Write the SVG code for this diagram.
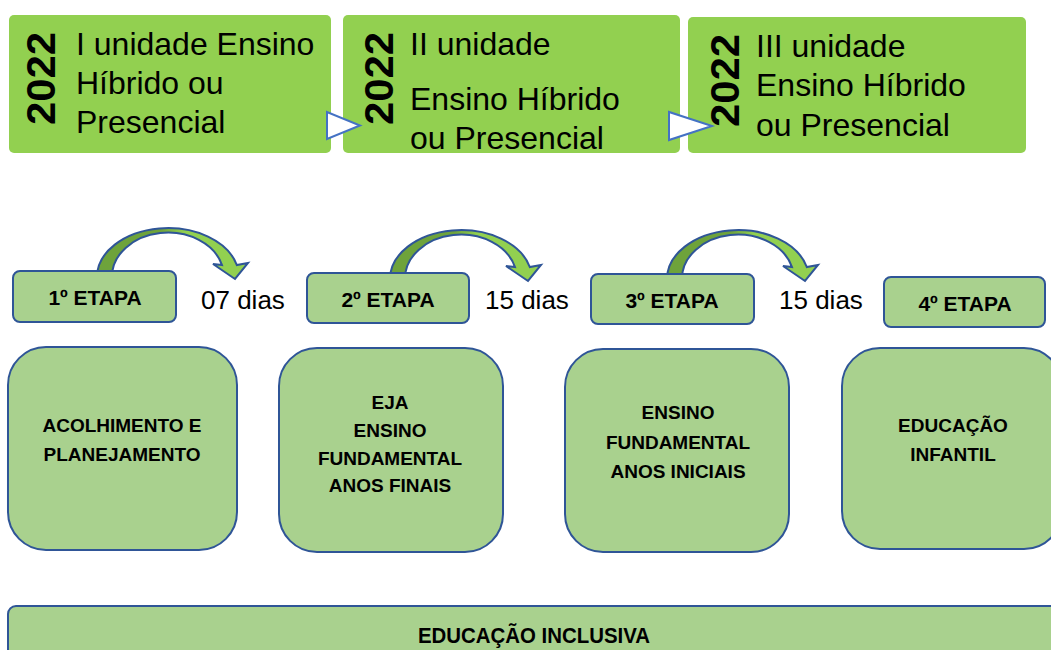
<svg xmlns="http://www.w3.org/2000/svg" width="1051" height="650" viewBox="0 0 1051 650">
<style>
.top{fill:#92d050}
.lt{fill:#a9d18e;stroke:#2f5597;stroke-width:2}
.t{font-family:"Liberation Sans",Arial,sans-serif;fill:#000}
.yr{font-family:"Liberation Sans",Arial,sans-serif;font-weight:bold;font-size:40px;fill:#000}
.u{font-size:32px}
.b{font-weight:bold;text-anchor:middle}
.e{font-size:21px}
.m{font-size:19px}
.d{font-size:26px}
.tri{fill:#fff;stroke:#4472c4;stroke-width:2;stroke-linejoin:miter}
.arr{fill:url(#ag);stroke:#2f5597;stroke-width:2;stroke-linejoin:miter}
</style>
<defs>
<linearGradient id="ag" x1="0" y1="0" x2="1" y2="0">
<stop offset="0" stop-color="#6ea33b"/>
<stop offset="0.42" stop-color="#6ea33b"/>
<stop offset="0.58" stop-color="#92d050"/>
<stop offset="1" stop-color="#92d050"/>
</linearGradient>
<path id="carrow" d="M97,277 A71,49 0 0 1 236.8,265 L248,263 L235,279 L213,264 L222,265 A56,44 0 0 0 112,277 Z"/>
</defs>

<g id="unit1">
<rect class="top" x="9" y="15" width="322" height="138" rx="5"/>
<text class="yr" transform="translate(55,125) rotate(-90)" textLength="93" lengthAdjust="spacingAndGlyphs">2022</text>
<text class="t u" x="76" y="55">I unidade Ensino</text>
<text class="t u" x="76" y="94">Híbrido ou</text>
<text class="t u" x="76" y="133">Presencial</text>
</g>
<g id="unit2">
<rect class="top" x="343" y="15" width="337" height="138" rx="5"/>
<text class="yr" transform="translate(393,125) rotate(-90)" textLength="93" lengthAdjust="spacingAndGlyphs">2022</text>
<text class="t u" x="410" y="55">II unidade</text>
<text class="t u" x="410" y="110">Ensino Híbrido</text>
<text class="t u" x="410" y="149">ou Presencial</text>
</g>
<g id="unit3">
<rect class="top" x="688" y="17" width="338" height="136" rx="5"/>
<text class="yr" transform="translate(739,127) rotate(-90)" textLength="93" lengthAdjust="spacingAndGlyphs">2022</text>
<text class="t u" x="756" y="57">III unidade</text>
<text class="t u" x="756" y="96">Ensino Híbrido</text>
<text class="t u" x="756" y="136">ou Presencial</text>
</g>

<g id="connectors">
<polygon class="tri" points="327,112 327,139 360,125.5"/>
<polygon class="tri" points="669,112 669,140 712,126"/>
<use href="#carrow" class="arr"/>
<use href="#carrow" class="arr" transform="translate(293,2)"/>
<use href="#carrow" class="arr" transform="translate(570,2)"/>
</g>

<g id="etapa1">
<rect class="lt" x="13" y="271" width="163" height="51" rx="7"/>
<text class="t b e" x="95" y="305">1º ETAPA</text>
</g>
<g id="etapa2">
<rect class="lt" x="307" y="273" width="162" height="50" rx="7"/>
<text class="t b e" x="388" y="307">2º ETAPA</text>
</g>
<g id="etapa3">
<rect class="lt" x="591" y="274" width="163" height="50" rx="7"/>
<text class="t b e" x="672" y="308">3º ETAPA</text>
</g>
<g id="etapa4">
<rect class="lt" x="884" y="277" width="161" height="50" rx="7"/>
<text class="t b e" x="965" y="311">4º ETAPA</text>
</g>

<g id="dias">
<text class="t d" x="201" y="309">07 dias</text>
<text class="t d" x="485" y="309">15 dias</text>
<text class="t d" x="779" y="309">15 dias</text>
</g>

<g id="boxA">
<rect class="lt" x="8" y="347" width="229" height="203" rx="38"/>
<text class="t b m" x="122" y="432">ACOLHIMENTO E</text>
<text class="t b m" x="122" y="461">PLANEJAMENTO</text>
</g>
<g id="boxB">
<rect class="lt" x="279" y="348" width="224" height="204" rx="38"/>
<text class="t b m" x="390" y="409">EJA</text>
<text class="t b m" x="390" y="437">ENSINO</text>
<text class="t b m" x="390" y="465">FUNDAMENTAL</text>
<text class="t b m" x="390" y="492">ANOS FINAIS</text>
</g>
<g id="boxC">
<rect class="lt" x="565" y="349" width="224" height="203" rx="38"/>
<text class="t b m" x="678" y="419">ENSINO</text>
<text class="t b m" x="678" y="449">FUNDAMENTAL</text>
<text class="t b m" x="678" y="478">ANOS INICIAIS</text>
</g>
<g id="boxD">
<rect class="lt" x="842" y="348" width="220" height="201" rx="38"/>
<text class="t b m" x="953" y="432">EDUCAÇÃO</text>
<text class="t b m" x="953" y="461">INFANTIL</text>
</g>
<g id="inclusiva">
<rect class="lt" x="8" y="606" width="1060" height="70" rx="8"/>
<text class="t b" x="534" y="643" font-size="22" textLength="232" lengthAdjust="spacingAndGlyphs">EDUCAÇÃO INCLUSIVA</text>
</g>
</svg>
